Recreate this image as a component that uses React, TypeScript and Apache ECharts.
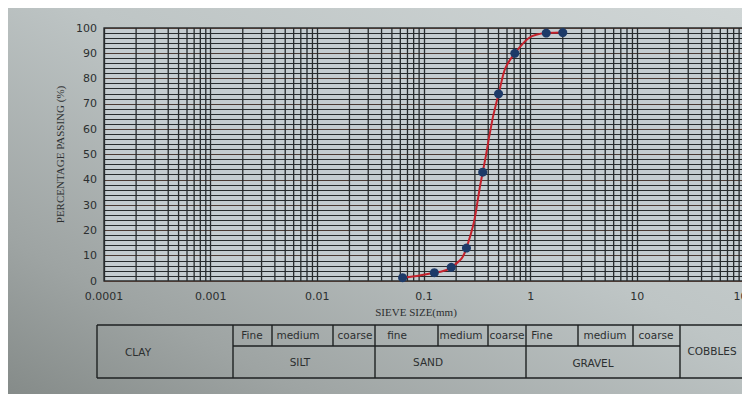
import { useEffect, useRef } from 'react';
import * as echarts from 'echarts';

// ---- data ----
const sieveSizes = [0.063, 0.125, 0.18, 0.25, 0.355, 0.5, 0.71, 1.4, 2.0];
const percentPassing = [1.3, 3.3, 5.4, 13, 43, 74, 90, 98, 98.2];
const xTickLabels = ['0.0001', '0.001', '0.01', '0.1', '1', '10', '100'];
const yTickLabels = ['0', '10', '20', '30', '40', '50', '60', '70', '80', '90', '100'];
const soilClasses = ['CLAY', 'SILT', 'SAND', 'GRAVEL', 'COBBLES'];
const soilSubClasses = ['Fine', 'medium', 'coarse', 'fine', 'medium', 'coarse', 'Fine', 'medium', 'coarse'];
const decadeStarts = [0.0001, 0.001, 0.01, 0.1, 1, 10];
const minorMultipliers = [2, 3, 4, 5, 6, 7, 8, 9];

// ---- layout (div pixel coordinates) ----
const TABLE = { left: 89, right: 740, top: 317, mid: 338, bottom: 370 };
const fullDividers = [225, 367, 518, 672];
const subDividers = [264, 325, 430, 480, 570, 625];
const classLabelPos = [
  [130, 344],
  [292, 354],
  [420, 354],
  [585, 355],
  [704, 343],
];
const subLabelX = [244, 290, 347, 389, 453, 499, 534, 597, 648];
const subLabelY = 327;

const GRID_DARK = '#272b2d';
const GRID_MAJOR_H = '#4a3a34';
const TEXT_COLOR = '#2c2f30';

export default function App() {
  const ref = useRef<HTMLDivElement>(null);

  useEffect(() => {
    if (!ref.current) return;
    const chart = echarts.init(ref.current, undefined, { renderer: 'svg' });

    const minorValues: number[] = [];
    decadeStarts.forEach((d) => minorMultipliers.forEach((m) => minorValues.push(+(d * m).toPrecision(6))));

    const lineStyle = { stroke: '#1e2122', lineWidth: 1.4 };
    const graphics: any[] = [];
    graphics.push({ type: 'line', shape: { x1: TABLE.left, y1: TABLE.top, x2: TABLE.right, y2: TABLE.top }, style: lineStyle, silent: true });
    graphics.push({ type: 'line', shape: { x1: TABLE.left, y1: TABLE.bottom, x2: TABLE.right, y2: TABLE.bottom }, style: lineStyle, silent: true });
    graphics.push({ type: 'line', shape: { x1: fullDividers[0], y1: TABLE.mid, x2: fullDividers[3], y2: TABLE.mid }, style: lineStyle, silent: true });
    [TABLE.left, ...fullDividers, TABLE.right].forEach((x) =>
      graphics.push({ type: 'line', shape: { x1: x, y1: TABLE.top, x2: x, y2: TABLE.bottom }, style: lineStyle, silent: true })
    );
    subDividers.forEach((x) =>
      graphics.push({ type: 'line', shape: { x1: x, y1: TABLE.top, x2: x, y2: TABLE.mid }, style: lineStyle, silent: true })
    );
    soilClasses.forEach((t, i) =>
      graphics.push({
        type: 'text',
        x: classLabelPos[i][0],
        y: classLabelPos[i][1],
        style: { text: t, fill: TEXT_COLOR, font: '10.5px "DejaVu Sans"', align: 'center', verticalAlign: 'middle' },
        silent: true,
      })
    );
    soilSubClasses.forEach((t, i) =>
      graphics.push({
        type: 'text',
        x: subLabelX[i],
        y: subLabelY,
        style: { text: t, fill: TEXT_COLOR, font: '10.5px "DejaVu Sans"', align: 'center', verticalAlign: 'middle' },
        silent: true,
      })
    );

    chart.setOption({
      animation: false,
      backgroundColor: {
        type: 'linear',
        x: 1,
        y: 0,
        x2: 0,
        y2: 1,
        colorStops: [
          { offset: 0, color: '#d0d6d6' },
          { offset: 0.45, color: '#bec5c5' },
          { offset: 0.8, color: '#9ea4a3' },
          { offset: 1, color: '#858b89' },
        ],
      },
      grid: {
        left: 96,
        right: 6,
        top: 20,
        bottom: 113,
        show: true,
        backgroundColor: '#c4ccd0',
        borderColor: GRID_DARK,
        borderWidth: 1.3,
        outerBoundsMode: 'none',
      },
      xAxis: {
        type: 'log',
        logBase: 10,
        min: 0.0001,
        max: 100,
        name: 'SIEVE SIZE(mm)',
        nameLocation: 'middle',
        nameGap: 21,
        nameTextStyle: { fontFamily: '"Liberation Serif", "Times New Roman", serif', fontSize: 11, color: TEXT_COLOR, padding: [0, 16, 0, 0] },
        axisLine: { show: false },
        axisTick: { show: false },
        axisLabel: {
          margin: 10,
          fontFamily: '"DejaVu Sans"',
          fontSize: 11,
          color: TEXT_COLOR,
          formatter: (v: number) => xTickLabels[Math.round(Math.log10(v)) + 4] ?? '',
        },
        splitLine: { show: true, lineStyle: { color: GRID_DARK, width: 1.3 } },
      },
      yAxis: {
        type: 'value',
        min: 0,
        max: 100,
        interval: 10,
        name: 'PERCENTAGE PASSING (%)',
        nameLocation: 'middle',
        nameGap: 34,
        nameTextStyle: { fontFamily: '"Liberation Serif", "Times New Roman", serif', fontSize: 11, color: TEXT_COLOR },
        axisLine: { show: false },
        axisTick: { show: false },
        axisLabel: {
          margin: 7,
          fontFamily: '"DejaVu Sans"',
          fontSize: 11,
          color: TEXT_COLOR,
          formatter: (v: number) => yTickLabels[Math.round(v / 10)] ?? '',
        },
        splitLine: { show: true, lineStyle: { color: GRID_MAJOR_H, width: 1.2 } },
        minorTick: { show: false, splitNumber: 5 },
        minorSplitLine: { show: true, lineStyle: { color: GRID_DARK, width: 1 } },
      },
      series: [
        {
          type: 'custom',
          silent: true,
          z: 1,
          data: minorValues.map((v) => [v]),
          encode: { x: 0 },
          clip: true,
          renderItem: (params: any, api: any) => {
            const v = api.value(0);
            const p0 = api.coord([v, 0]);
            const p1 = api.coord([v, 100]);
            return {
              type: 'line',
              shape: { x1: p0[0], y1: p0[1], x2: p1[0], y2: p1[1] },
              style: { stroke: GRID_DARK, lineWidth: 1.3 },
            };
          },
        },
        {
          type: 'line',
          data: sieveSizes.map((s, i) => [s, percentPassing[i]]),
          smooth: 0.5,
          symbol: 'circle',
          symbolSize: 9,
          itemStyle: { color: '#1d3a68' },
          lineStyle: { color: '#c4222d', width: 2 },
          z: 5,
        },
      ],
      graphic: graphics,
    });

    return () => chart.dispose();
  }, []);

  return <div ref={ref} style={{ width: 742, height: 386 }} />;
}
